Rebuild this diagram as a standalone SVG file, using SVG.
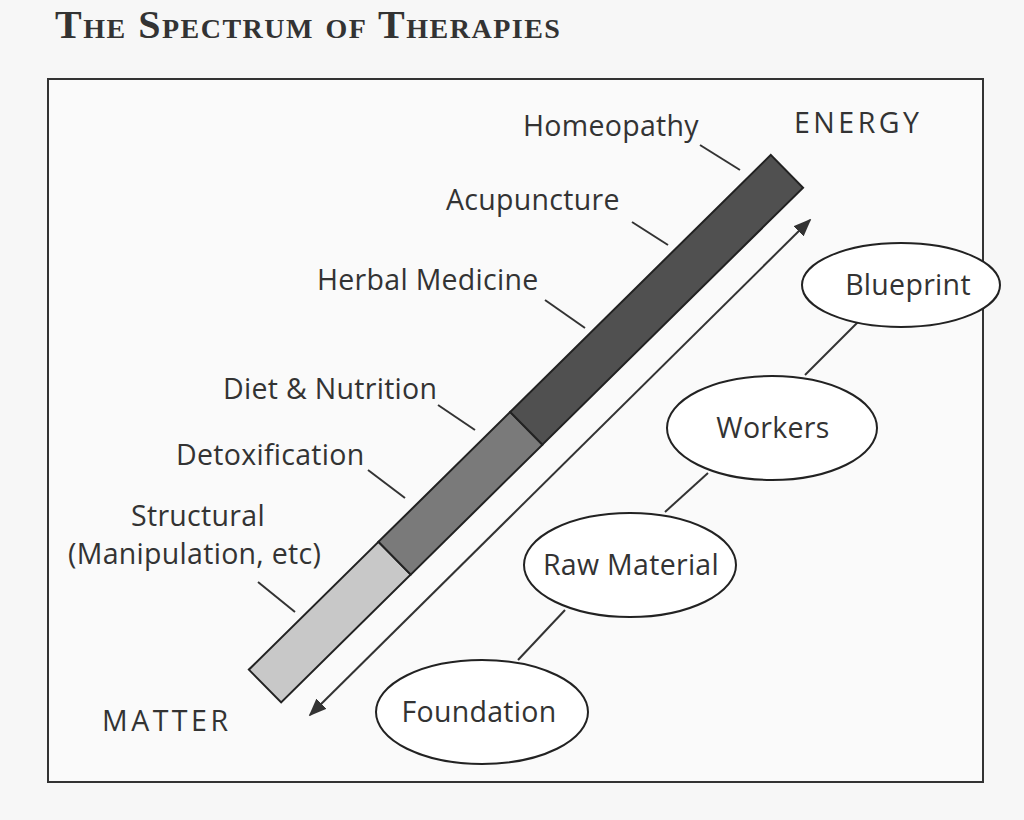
<svg xmlns="http://www.w3.org/2000/svg" width="1024" height="820" viewBox="0 0 1024 820">
<defs>
<style>
.t{font-family:"Open Sans","Liberation Sans",sans-serif;font-size:28.5px;fill:#333;letter-spacing:0.3px}
.w{letter-spacing:3.5px}
.ln{stroke:#333;stroke-width:2;fill:none}
.el{fill:#fff;stroke:#222;stroke-width:2}
</style>
<marker id="ah" viewBox="0 0 10 10" refX="9" refY="5" markerWidth="9" markerHeight="9" orient="auto-start-reverse"><path d="M0,1L10,5L0,9z" fill="#333"/></marker>
</defs>
<rect width="1024" height="820" fill="#f7f7f7"/>
<text x="55" y="38" font-family="Liberation Serif,serif" font-weight="bold" font-size="40" font-variant="small-caps" letter-spacing="1.5" fill="#333">The Spectrum of Therapies</text>
<rect x="48" y="79" width="935" height="703" fill="#fafafa" stroke="#333" stroke-width="2"/>
<g id="bar" transform="translate(265,686) rotate(-44.6)" stroke="#222" stroke-width="2">
<rect x="0" y="-23" width="182" height="46" fill="#c8c8c8"/>
<rect x="182" y="-23" width="185" height="46" fill="#7a7a7a"/>
<rect x="367" y="-23" width="366" height="46" fill="#505050"/>
</g>
<g id="connectors">
<line class="ln" x1="310" y1="715" x2="810" y2="220" marker-start="url(#ah)" marker-end="url(#ah)"/>
<line class="ln" x1="858" y1="322" x2="805" y2="375"/>
<line class="ln" x1="708" y1="473" x2="665" y2="512"/>
<line class="ln" x1="565" y1="610" x2="518" y2="660"/>
<line class="ln" x1="700" y1="145" x2="740" y2="170"/>
<line class="ln" x1="632" y1="222" x2="668" y2="245"/>
<line class="ln" x1="545" y1="300" x2="585" y2="328"/>
<line class="ln" x1="438" y1="405" x2="475" y2="430"/>
<line class="ln" x1="368" y1="470" x2="405" y2="498"/>
<line class="ln" x1="258" y1="582" x2="295" y2="612"/>
</g>
<g id="blueprint"><ellipse class="el" cx="901" cy="285" rx="99" ry="42"/><text class="t" x="908" y="295" text-anchor="middle">Blueprint</text></g>
<g id="workers"><ellipse class="el" cx="772" cy="428" rx="105" ry="52"/><text class="t" x="773" y="438" text-anchor="middle">Workers</text></g>
<g id="raw"><ellipse class="el" cx="630" cy="565" rx="106" ry="52"/><text class="t" x="631" y="575" text-anchor="middle">Raw Material</text></g>
<g id="foundation"><ellipse class="el" cx="482" cy="712" rx="106" ry="52"/><text class="t" x="479" y="722" text-anchor="middle">Foundation</text></g>
<g id="labels">
<text class="t" x="523" y="136">Homeopathy</text>
<text class="t" x="446" y="210">Acupuncture</text>
<text class="t" x="317" y="290">Herbal Medicine</text>
<text class="t" x="223" y="399">Diet &amp; Nutrition</text>
<text class="t" x="176" y="465">Detoxification</text>
<text class="t" x="131" y="526">Structural</text>
<text class="t" x="68" y="564">(Manipulation, etc)</text>
<text class="t w" x="794" y="133">ENERGY</text>
<text class="t w" x="102" y="731">MATTER</text>
</g>
</svg>
